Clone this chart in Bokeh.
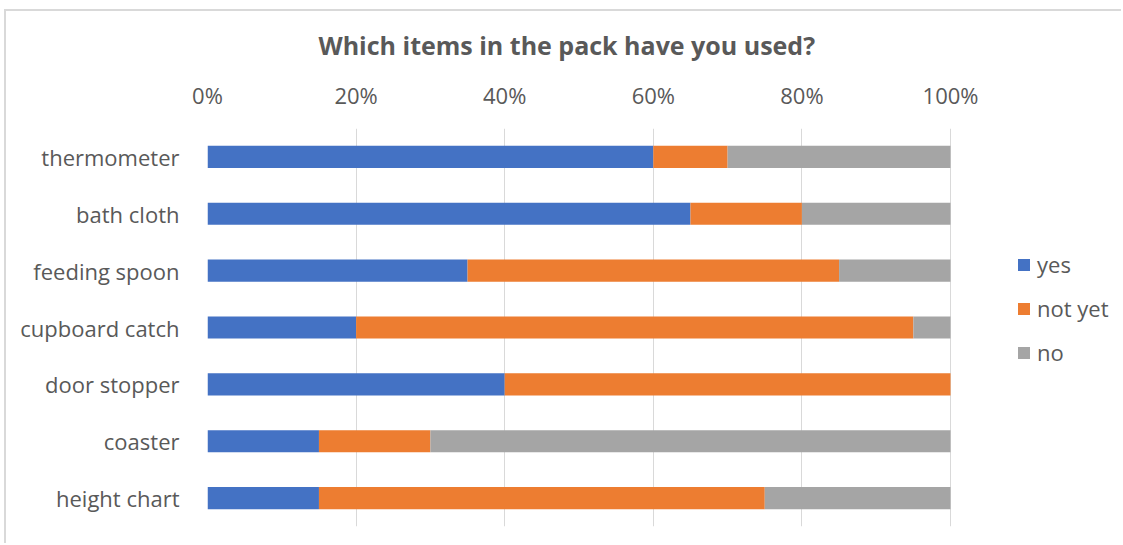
from bokeh.plotting import figure
from bokeh.models import FactorRange, Legend, LegendItem, FixedTicker, ColumnDataSource
from bokeh.embed import file_html
from bokeh.resources import INLINE

items = ["thermometer", "bath cloth", "feeding spoon", "cupboard catch", "door stopper", "coaster", "height chart"]
yes = [60, 65, 35, 20, 40, 15, 15]
not_yet = [10, 15, 50, 75, 60, 15, 60]
no = [30, 20, 15, 5, 0, 70, 25]
series = ["yes", "not yet", "no"]
colors = ["#4472C4", "#ED7D31", "#A5A5A5"]
tick_values = [0, 20, 40, 60, 80, 100]
tick_labels = ["0%", "20%", "40%", "60%", "80%", "100%"]
title_text = "Which items in the pack have you used?"

FONT = "Open Sans"
TXT = "#595959"

source = ColumnDataSource(dict(item=items, yes=yes, not_yet=not_yet, no=no))

# frame runs from the 0% line to the right edge of the page, so the legend can sit inside it
p = figure(width=1117, height=534, output_backend="svg", toolbar_location=None,
           y_range=FactorRange(factors=list(reversed(items)), range_padding=0),
           x_range=(0, 123.28), x_axis_location="above",
           min_border_left=201, min_border_right=0, min_border_top=117, min_border_bottom=19)
p.outline_line_color = None
p.background_fill_color = "white"
p.border_fill_color = "white"
p.margin = (9, 0, 0, 4)
p.styles = {"border-left": "2px solid #D9D9D9", "border-top": "2px solid #D9D9D9"}

p.title.text = title_text
p.title.align = "left"
p.title.offset = 111
p.title.standoff = 29
p.title.text_font = FONT
p.title.text_font_size = "25px"
p.title.text_font_style = "bold"
p.title.text_color = TXT

renderers = p.hbar_stack(["yes", "not_yet", "no"], y="item", height=0.39, color=colors,
                         source=source, line_color=None)

p.xaxis.ticker = FixedTicker(ticks=tick_values)
p.xaxis.major_label_overrides = {v: l for v, l in zip(tick_values, tick_labels)}
p.xaxis.axis_line_color = None
p.xaxis.major_tick_line_color = None
p.xaxis.minor_tick_line_color = None
p.xaxis.major_label_standoff = 13
p.xaxis.major_label_text_font = FONT
p.xaxis.major_label_text_font_size = "22px"
p.xaxis.major_label_text_color = TXT

p.yaxis.axis_line_color = None
p.yaxis.major_tick_line_color = None
p.yaxis.major_label_standoff = 22
p.yaxis.major_label_text_font = FONT
p.yaxis.major_label_text_font_size = "22px"
p.yaxis.major_label_text_color = TXT

p.xgrid.grid_line_color = "#D9D9D9"
p.ygrid.grid_line_color = None

legend = Legend(items=[LegendItem(label=s, renderers=[r]) for s, r in zip(series, renderers)],
                location=(809, 159), orientation="vertical",
                glyph_width=15, glyph_height=15, label_height=24, spacing=14,
                padding=0, margin=0, border_line_color=None, background_fill_alpha=0,
                label_text_font=FONT, label_text_font_size="22px", label_text_color=TXT,
                label_standoff=6)
p.add_layout(legend, "center")

open("out.html", "w").write(file_html(p, INLINE))
